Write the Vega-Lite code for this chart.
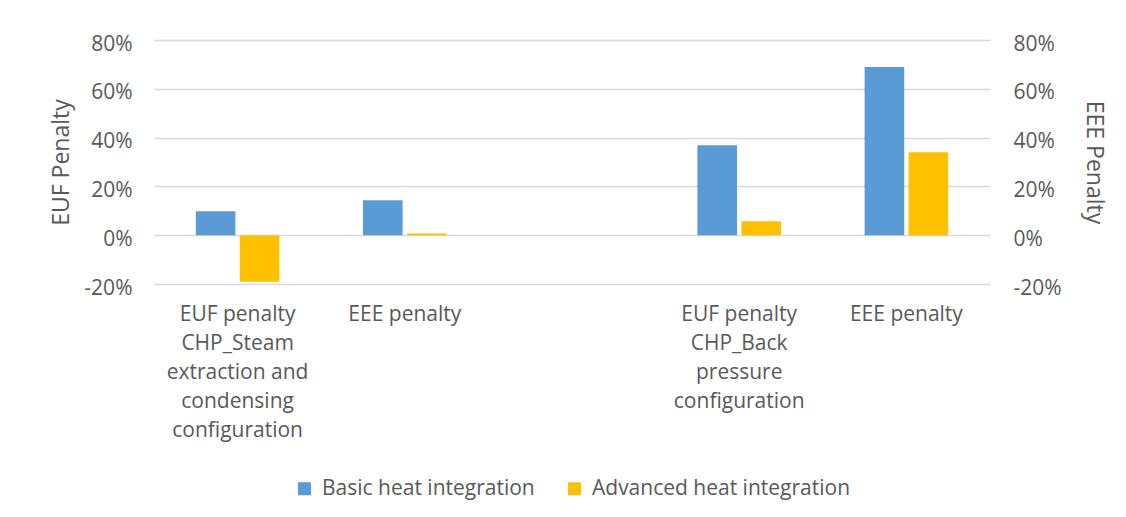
{
  "$schema": "https://vega.github.io/schema/vega-lite/v6.json",
  "width": 836,
  "height": 244,
  "autosize": {"type": "none"},
  "padding": {"left": 154, "top": 40, "right": 136, "bottom": 233},
  "background": "white",
  "config": {
    "view": {"stroke": null},
    "font": "Open Sans",
    "axis": {"labelFont": "Open Sans", "titleFont": "Open Sans", "labelColor": "#595959", "titleColor": "#595959", "titleFontWeight": "normal"},
    "legend": {"labelFont": "Open Sans", "layout": {"bottom": {"anchor": "middle"}}}
  },
  "data": {
    "values": [
      {"cat": "A", "series": "Basic heat integration", "v": 0.098},
      {"cat": "A", "series": "Advanced heat integration", "v": -0.191},
      {"cat": "B", "series": "Basic heat integration", "v": 0.143},
      {"cat": "B", "series": "Advanced heat integration", "v": 0.007},
      {"cat": "D", "series": "Basic heat integration", "v": 0.369},
      {"cat": "D", "series": "Advanced heat integration", "v": 0.057},
      {"cat": "E", "series": "Basic heat integration", "v": 0.689},
      {"cat": "E", "series": "Advanced heat integration", "v": 0.340}
    ]
  },
  "encoding": {
    "x": {
      "field": "cat",
      "type": "nominal",
      "scale": {"domain": ["A", "B", "C", "D", "E"], "paddingInner": 0.5, "paddingOuter": 0.25},
      "axis": {
        "title": null,
        "labelAngle": 0,
        "domain": false,
        "ticks": false,
        "labelFontSize": 21,
        "labelLineHeight": 29,
        "labelBaseline": "top",
        "labelPadding": 19,
        "labelLimit": 300,
        "labelExpr": "datum.value == 'A' ? ['EUF penalty', 'CHP_Steam', 'extraction and', 'condensing', 'configuration'] : datum.value == 'B' ? 'EEE penalty' : datum.value == 'D' ? ['EUF penalty', 'CHP_Back', 'pressure', 'configuration'] : datum.value == 'E' ? 'EEE penalty' : ''"
      }
    }
  },
  "layer": [
    {
      "mark": {"type": "bar"},
      "encoding": {
        "xOffset": {
          "field": "series",
          "type": "nominal",
          "scale": {"domain": ["Basic heat integration", "Advanced heat integration"], "paddingInner": 0.1, "paddingOuter": 0}
        },
        "y": {
          "field": "v",
          "type": "quantitative",
          "scale": {"domain": [-0.2, 0.8], "nice": false, "zero": false},
          "axis": {
            "title": "EUF Penalty",
            "titleFontSize": 23,
            "titlePadding": 10,
            "values": [-0.2, 0, 0.2, 0.4, 0.6, 0.8],
            "labelExpr": "round(datum.value * 100) + '%'",
            "labelFontSize": 21,
            "labelPadding": 22,
            "labelOffset": 4,
            "ticks": false,
            "domain": false,
            "gridColor": "#D9D9D9",
            "gridWidth": 1.7
          }
        },
        "color": {
          "field": "series",
          "type": "nominal",
          "scale": {"domain": ["Basic heat integration", "Advanced heat integration"], "range": ["#5B9BD5", "#FFC000"]},
          "legend": {
            "title": null,
            "orient": "bottom",
            "direction": "horizontal",
            "symbolType": "square",
            "symbolSize": 169,
            "symbolStrokeWidth": 0,
            "labelFontSize": 21,
            "labelColor": "#595959",
            "labelOffset": 7,
            "columnPadding": 29,
            "offset": 38,
            "labelLimit": 400
          }
        }
      }
    },
    {
      "mark": {"type": "bar", "opacity": 0},
      "encoding": {
        "y": {
          "field": "v",
          "type": "quantitative",
          "scale": {"domain": [-0.2, 0.8], "nice": false, "zero": false},
          "axis": {
            "orient": "right",
            "title": "EEE Penalty",
            "titleFontSize": 23,
            "titlePadding": 20,
            "values": [-0.2, 0, 0.2, 0.4, 0.6, 0.8],
            "labelExpr": "round(datum.value * 100) + '%'",
            "labelFontSize": 21,
            "labelPadding": 23,
            "labelOffset": 4,
            "ticks": false,
            "domain": false,
            "grid": false
          }
        }
      }
    }
  ],
  "resolve": {"scale": {"y": "independent"}}
}
